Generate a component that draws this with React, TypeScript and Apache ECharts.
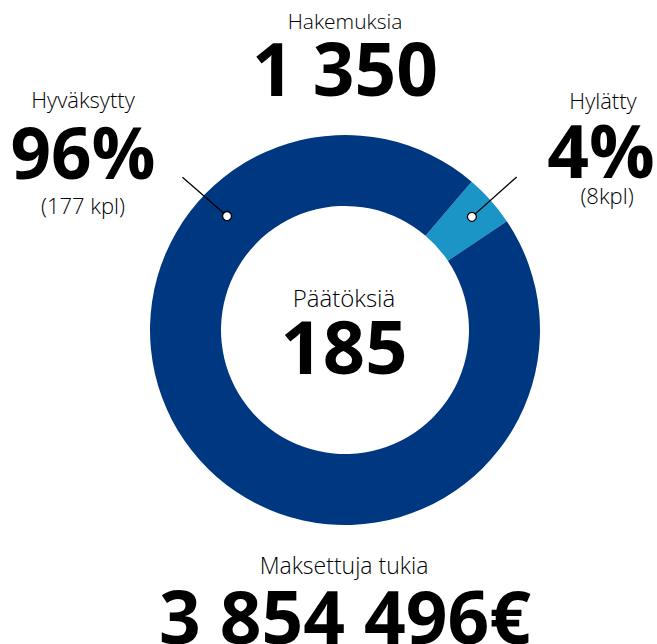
import React, { useEffect, useRef } from "react";
import * as echarts from "echarts";

const categories = ["Hylätty", "Hyväksytty"];
const counts = [8, 177];
const colors = ["#1a95c6", "#003781"];
const percentLabels = ["4%", "96%"];
const countLabels = ["(8kpl)", "(177 kpl)"];
const topTitle = "Hakemuksia";
const topValue = "1 350";
const centerTitle = "Päätöksiä";
const centerValue = "185";
const bottomTitle = "Maksettuja tukia";
const bottomValue = "3 854 496€";

const FONT = "'Open Sans', 'Noto Sans', sans-serif";

export default function App() {
  const ref = useRef<HTMLDivElement>(null);
  useEffect(() => {
    document.body.style.margin = "0";
    const chart = echarts.init(ref.current!, null, { renderer: "svg" });
    const cx = 345;
    const cy = 330;
    const startAngle = 49.5;
    const total = counts.reduce((a, b) => a + b, 0);
    // mid angle (clockwise from 12 o'clock) of rejected segment
    const rejMid = 90 - startAngle + (counts[0] / total) * 180;
    const polar = (angDeg: number, r: number) => {
      const a = (angDeg * Math.PI) / 180;
      return [cx + r * Math.sin(a), cy - r * Math.cos(a)];
    };
    const rDot = polar(rejMid, 170);
    const rEnd = polar(rejMid, 230);
    const lDot = polar(-46, 164);
    const lEnd = polar(-46.8, 223);

    const light = (text: string, x: number, y: number, size = 22) => ({
      type: "text",
      x,
      y,
      z: 10,
      silent: true,
      style: {
        text,
        fill: "#000",
        font: `300 ${size}px ${FONT}`,
        lineHeight: Math.round(size * 0.95),
        align: "center",
        verticalAlign: "middle",
      },
    });
    const bold = (text: string, x: number, y: number, size = 73) => ({
      type: "text",
      x,
      y,
      z: 10,
      silent: true,
      style: {
        text,
        fill: "#000",
        font: `bold ${size}px ${FONT}`,
        lineHeight: Math.round(size * 0.76),
        align: "center",
        verticalAlign: "middle",
      },
    });

    chart.setOption({
      animation: false,
      series: [
        {
          type: "pie",
          center: [cx, cy],
          radius: [124, 195],
          startAngle,
          clockwise: true,
          silent: true,
          label: { show: false },
          labelLine: { show: false },
          emphasis: { disabled: true },
          data: categories.map((name, i) => ({
            name,
            value: counts[i],
            itemStyle: { color: colors[i], borderWidth: 0 },
          })),
        },
      ],
      graphic: [
        { type: "line", z: 20, silent: true, shape: { x1: lEnd[0], y1: lEnd[1], x2: lDot[0], y2: lDot[1] }, style: { stroke: "#000", lineWidth: 1.3 } },
        { type: "line", z: 20, silent: true, shape: { x1: rEnd[0], y1: rEnd[1], x2: rDot[0], y2: rDot[1] }, style: { stroke: "#000", lineWidth: 1.3 } },
        { type: "circle", z: 21, silent: true, shape: { cx: lDot[0], cy: lDot[1], r: 4.5 }, style: { fill: "#fff", stroke: "#000", lineWidth: 1.3 } },
        { type: "circle", z: 21, silent: true, shape: { cx: rDot[0], cy: rDot[1], r: 4.5 }, style: { fill: "#fff", stroke: "#000", lineWidth: 1.3 } },
        light(topTitle, 345, 21, 21),
        bold(topValue, 345, 67),
        light(categories[1], 83, 99),
        bold(percentLabels[1], 83, 151, 71),
        light(countLabels[1], 83, 205),
        light(categories[0], 603, 100),
        bold(percentLabels[0], 601, 149, 73),
        light(countLabels[0], 607, 195),
        light(centerTitle, 344, 297, 24),
        bold(centerValue, 344, 345, 74),
        light(bottomTitle, 344, 565, 23),
        bold(bottomValue, 345, 615, 73),
      ],
    });
    return () => chart.dispose();
  }, []);
  return <div ref={ref} style={{ width: 657, height: 644 }} />;
}
